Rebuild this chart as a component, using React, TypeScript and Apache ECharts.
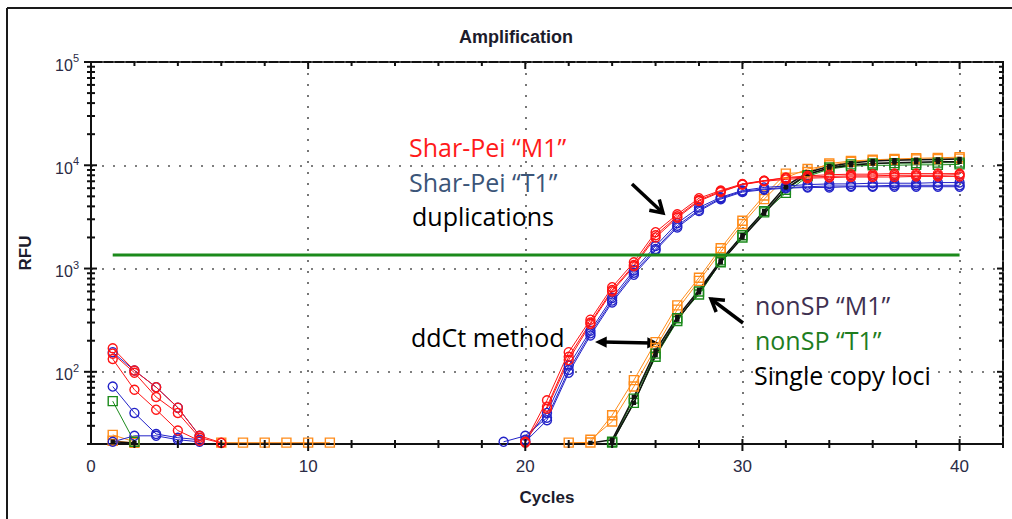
import React, { useEffect, useRef } from "react";
import * as echarts from "echarts";

// Cycle numbers (x values)
const cycles = [
  1, 2, 3, 4, 5, 6, 7, 8, 9, 10, 11, 12, 13, 14, 15, 16, 17, 18, 19, 20,
  21, 22, 23, 24, 25, 26, 27, 28, 29, 30, 31, 32, 33, 34, 35, 36, 37, 38, 39, 40,
];

const __ = null; // reading below the plotted range

// Shar-Pei "M1" wells (red)
const spM1a = [169, 103, 71, 45, 24, 20.6, __, __, __, __, __, __, __, __, __, __, __, __, __,
  21, 53, 155, 320, 660, 1150, 2250, 3350, 4800, 5700, 6600, 7100, 7500, 7700, 7800, 7900, 7900, 8000, 8000, 8000, 8100];
const spM1b = [150, 98, 57, 40, 23, 20.5, __, __, __, __, __, __, __, __, __, __, __, __, __,
  20.6, 46, 140, 300, 620, 1080, 2100, 3200, 4600, 5600, 6500, 7000, 7300, 7500, 7600, 7700, 7700, 7700, 7800, 7800, 7800];
const spM1c = [133, 67, 43, 27, 21.5, __, __, __, __, __, __, __, __, __, __, __, __, __, __,
  __, 44, 130, 290, 600, 1050, 2000, 3100, 4500, 5500, 6500, 7100, 7600, 7900, 8100, 8200, 8200, 8300, 8300, 8300, 8300];

// Shar-Pei "T1" wells (blue)
const spT1a = [155, 103, 71, 45, 24, __, __, __, __, __, __, __, __, __, __, __, __, __,
  21, 24, 36, 104, 236, 490, 910, 1550, 2600, 3700, 4800, 5600, 5900, 6100, 6200, 6300, 6300, 6300, 6400, 6400, 6400, 6400];
const spT1b = [72, 40, 25, 23, 22, __, __, __, __, __, __, __, __, __, __, __, __, __, __,
  22, 40, 115, 250, 520, 960, 1650, 2750, 3900, 4900, 5700, 6100, 6300, 6500, 6600, 6600, 6700, 6700, 6700, 6800, 6800];
const spT1c = [21, 24, 24, 22, 21, __, __, __, __, __, __, __, __, __, __, __, __, __, __,
  21, 34, 98, 225, 470, 870, 1500, 2500, 3600, 4700, 5500, 5800, 6000, 6100, 6100, 6200, 6200, 6200, 6200, 6200, 6200];

// nonSP "M1" wells (orange)
const nsM1a = [24.5, 21, __, __, __, 20.6, 20.6, 20.6, 20.6, 20.6, 20.6, __, __, __, __, __, __, __, __, __, __,
  20.6, 20.7, 38, 83, 194, 440, 815, 1570, 2900, 5100, 8300, 8600, 10400, 11000, 11300, 11500, 11700, 11800, 12000];
const nsM1b = [21.5, 20.5, __, __, __, __, __, __, __, __, __, __, __, __, __, __, __, __, __, __, __,
  __, 22, 33, 72, 170, 400, 760, 1450, 2700, 4700, 7600, 9200, 10000, 10800, 11100, 11300, 11400, 11500, 11600];

// nonSP "T1" wells (green)
const nsT1a = [52, 21, __, __, __, __, __, __, __, __, __, __, __, __, __, __, __, __, __, __, __, __, __,
  21, 55, 150, 330, 560, 1150, 2000, 3500, 5400, 7800, 9200, 9800, 10000, 10000, 10100, 10100, 10200];
const nsT1b = [__, __, __, __, __, __, __, __, __, __, __, __, __, __, __, __, __, __, __, __, __, __, __,
  20.6, 50, 140, 310, 600, 1200, 2100, 3600, 5800, 8000, 9500, 10200, 10400, 10500, 10500, 10600, 10600];

// nonSP additional wells (black)
const nsKa = [21, 20.5, __, __, __, __, __, __, __, __, __, __, __, __, __, __, __, __, __, __, __, __,
  20.5, 22, 57, 160, 340, 620, 1200, 2100, 3600, 6300, 8500, 9800, 10500, 11000, 11200, 11300, 11400, 11500];
const nsKb = [__, __, __, __, __, __, __, __, __, __, __, __, __, __, __, __, __, __, __, __, __, __, __,
  21, 50, 145, 320, 590, 1150, 2000, 3400, 5900, 8200, 9400, 10000, 10400, 10600, 10700, 10800, 10800];

// Threshold line
const thresholdRFU = 1350;
const thresholdCycles = [1, 40];

const X_MIN = 0;
const X_MAX = 42;
const Y_MIN = 20;
const Y_MAX = 100000;

const RED = "#ff1414";
const BLUE = "#2323c8";
const ORANGE = "#ff8c1a";
const GREEN = "#1b8a1b";
const BLACK = "#111111";

const AXIS_FONT = '"Liberation Sans", Arial, sans-serif';
const NOTE_FONT = '"Open Sans", "Liberation Sans", sans-serif';

function toPairs(vals: (number | null)[]) {
  return cycles.map((c, i) => [c, vals[i] == null ? "-" : vals[i]]);
}

function wellSeries(
  vals: (number | null)[],
  color: string,
  symbol: string,
  opts: { filled?: boolean; size?: number; width?: number } = {}
) {
  const { filled = false, size = 9, width = 1 } = opts;
  return {
    type: "line",
    data: toPairs(vals),
    symbol,
    symbolSize: size,
    showSymbol: true,
    connectNulls: false,
    silent: true,
    lineStyle: { color, width },
    itemStyle: {
      color: filled ? color : "rgba(0,0,0,0)",
      borderColor: color,
      borderWidth: 1.4,
    },
    emphasis: { disabled: true },
    z: 3,
  };
}

// Tick marks on the frame (log minor ticks on y, every 2 cycles on x)
const yTickData: number[][] = [];
for (let e = 1; e <= 4; e++) {
  for (let m = 1; m <= 9; m++) {
    const v = m * Math.pow(10, e);
    if (v >= Y_MIN && v <= Y_MAX) yTickData.push([0, v, m === 1 ? 1 : 0]);
  }
}
yTickData.push([0, Y_MAX, 1]);
const xTickData: number[][] = [];
for (let c = 2; c <= X_MAX; c += 2) xTickData.push([c, Y_MIN, c % 10 === 0 ? 1 : 0]);

function arrowHead(tip: number[], from: number[], len: number, spread: number) {
  const ang = Math.atan2(tip[1] - from[1], tip[0] - from[0]);
  const a1 = ang + Math.PI - spread;
  const a2 = ang + Math.PI + spread;
  return [
    [tip[0] + len * Math.cos(a1), tip[1] + len * Math.sin(a1)],
    [tip[0], tip[1]],
    [tip[0] + len * Math.cos(a2), tip[1] + len * Math.sin(a2)],
  ];
}

function pointerArrow(tail: number[], tip: number[]) {
  return [
    { type: "line", shape: { x1: tail[0], y1: tail[1], x2: tip[0], y2: tip[1] }, style: { stroke: "#000", lineWidth: 3.5 } },
    { type: "polyline", shape: { points: arrowHead(tip, tail, 14, 0.55) }, style: { stroke: "#000", lineWidth: 3.5, fill: null } },
  ];
}

function doubleArrow(a: number[], b: number[]) {
  return [
    { type: "line", shape: { x1: a[0] + 8, y1: a[1], x2: b[0] - 8, y2: b[1] }, style: { stroke: "#000", lineWidth: 3.5 } },
    { type: "polygon", shape: { points: arrowHead(a, b, 13, 0.45) }, style: { fill: "#000" } },
    { type: "polygon", shape: { points: arrowHead(b, a, 13, 0.45) }, style: { fill: "#000" } },
  ];
}

function note(text: string, x: number, y: number, color: string) {
  return {
    type: "text",
    x,
    y,
    style: {
      text,
      fill: color,
      font: `25px ${NOTE_FONT}`,
      align: "left",
      verticalAlign: "middle",
      textAlign: "left",
      textVerticalAlign: "middle",
    },
    z: 10,
  };
}

export default function App() {
  const ref = useRef<HTMLDivElement>(null);

  useEffect(() => {
    if (!ref.current) return;
    const chart = echarts.init(ref.current, null, { renderer: "svg" });

    const dotted = { color: "#555", width: 1.6, type: [2, 9] as number[] };

    const option: any = {
      animation: false,
      backgroundColor: "#fff",
      grid: {
        left: 91,
        top: 62,
        right: 9,
        bottom: 75,
        show: true,
        borderColor: "#111",
        borderWidth: 2,
        backgroundColor: "transparent",
      },
      xAxis: {
        type: "value",
        min: X_MIN,
        max: X_MAX,
        interval: 10,
        name: "Cycles",
        nameLocation: "middle",
        nameGap: 45,
        nameTextStyle: { fontFamily: AXIS_FONT, fontWeight: "bold", fontSize: 17, color: "#1c1c2c" },
        axisLine: { show: true, onZero: false, lineStyle: { color: "#111", width: 2 } },
        axisTick: { show: false },
        axisLabel: {
          margin: 14,
          fontFamily: AXIS_FONT,
          fontSize: 17,
          color: "#2b2b45",
          showMaxLabel: false,
          formatter: (v: number) => (v % 10 === 0 && v <= 40 ? String(v) : ""),
        },
        splitLine: { show: true, lineStyle: dotted },
      },
      yAxis: {
        type: "log",
        logBase: 10,
        min: Y_MIN,
        max: Y_MAX,
        name: "RFU",
        nameLocation: "middle",
        nameGap: 57,
        nameTextStyle: { fontFamily: AXIS_FONT, fontWeight: "bold", fontSize: 17, color: "#1c1c2c" },
        axisLine: { show: true, lineStyle: { color: "#111", width: 2 } },
        axisTick: { show: false },
        axisLabel: {
          margin: 12,
          showMinLabel: false,
          formatter: (v: number) => {
            const e = Math.round(Math.log10(v));
            if (Math.abs(Math.pow(10, e) - v) > 1e-6 * v) return "";
            return `{b|10}{s|${e}}`;
          },
          rich: {
            b: { fontFamily: AXIS_FONT, fontSize: 16, color: "#2b2b45", padding: [6, 0, 0, 0] },
            s: { fontFamily: AXIS_FONT, fontSize: 11, color: "#2b2b45", padding: [0, 0, 8, 0] },
          },
        },
        splitLine: { show: true, lineStyle: dotted },
      },
      series: [
        wellSeries(nsM1a, ORANGE, "rect"),
        wellSeries(nsM1b, ORANGE, "rect"),
        wellSeries(nsT1a, GREEN, "rect"),
        wellSeries(nsT1b, GREEN, "rect"),
        wellSeries(nsKa, BLACK, "rect", { filled: true, size: 3, width: 1.5 }),
        wellSeries(nsKb, BLACK, "rect", { filled: true, size: 3, width: 1.5 }),
        wellSeries(spT1a, BLUE, "circle"),
        wellSeries(spT1b, BLUE, "circle"),
        wellSeries(spT1c, BLUE, "circle"),
        wellSeries(spM1a, RED, "circle"),
        wellSeries(spM1b, RED, "circle"),
        wellSeries(spM1c, RED, "circle"),
        {
          type: "line",
          data: thresholdCycles.map((c) => [c, thresholdRFU]),
          symbol: "none",
          silent: true,
          lineStyle: { color: GREEN, width: 3 },
          z: 5,
        },
        {
          type: "custom",
          coordinateSystem: "cartesian2d",
          silent: true,
          clip: false,
          data: yTickData,
          encode: { x: 0, y: 1 },
          z: 6,
          renderItem: (_p: any, api: any) => {
            const v = api.value(1);
            const major = api.value(2) === 1;
            const l = api.coord([X_MIN, v]);
            const r = api.coord([X_MAX, v]);
            const st = { stroke: "#111", lineWidth: 2 };
            return {
              type: "group",
              children: [
                { type: "line", shape: { x1: l[0] - (major ? 7 : 4), y1: l[1], x2: l[0] + (major ? 6 : 4), y2: l[1] }, style: st },
                { type: "line", shape: { x1: r[0] - (major ? 6 : 4), y1: r[1], x2: r[0], y2: r[1] }, style: st },
              ],
            };
          },
        },
        {
          type: "custom",
          coordinateSystem: "cartesian2d",
          silent: true,
          clip: false,
          data: xTickData,
          encode: { x: 0, y: 1 },
          z: 6,
          renderItem: (_p: any, api: any) => {
            const c = api.value(0);
            const major = api.value(2) === 1;
            const b = api.coord([c, Y_MIN]);
            const t = api.coord([c, Y_MAX]);
            const st = { stroke: "#111", lineWidth: 2 };
            return {
              type: "group",
              children: [
                { type: "line", shape: { x1: b[0], y1: b[1] - (major ? 5 : 4), x2: b[0], y2: b[1] + (major ? 7 : 4) }, style: st },
                { type: "line", shape: { x1: t[0], y1: t[1], x2: t[0], y2: t[1] + (major ? 7 : 4) }, style: st },
              ],
            };
          },
        },
      ],
      graphic: [
        // page frame
        { type: "line", shape: { x1: 7, y1: 8, x2: 1012, y2: 8 }, style: { stroke: "#1a1a1a", lineWidth: 2 } },
        { type: "line", shape: { x1: 7, y1: 8, x2: 7, y2: 519 }, style: { stroke: "#1a1a1a", lineWidth: 2 } },
        {
          type: "text",
          x: 516,
          y: 37,
          style: {
            text: "Amplification",
            fill: "#1c1c2c",
            font: `bold 18px ${AXIS_FONT}`,
            align: "center",
            verticalAlign: "middle",
            textAlign: "center",
            textVerticalAlign: "middle",
          },
        },
        note("Shar-Pei \u201cM1\u201d", 409, 147, "#ff1a1a"),
        note("Shar-Pei \u201cT1\u201d", 409, 182, "#3b5578"),
        note("duplications", 412, 216, "#000000"),
        note("ddCt method", 411, 337, "#000000"),
        note("nonSP \u201cM1\u201d", 755, 305, "#3f3151"),
        note("nonSP \u201cT1\u201d", 755, 340, "#1e7d1e"),
        note("Single copy loci", 754, 375, "#000000"),
        ...pointerArrow([632, 184], [663, 213]),
        ...pointerArrow([743, 323], [711, 299]),
        ...doubleArrow([595, 342], [659, 343]),
      ],
    };

    chart.setOption(option);
    return () => chart.dispose();
  }, []);

  return (
    <div
      ref={ref}
      style={{ position: "fixed", left: 0, top: 0, width: 1012, height: 519, background: "#fff" }}
    />
  );
}
